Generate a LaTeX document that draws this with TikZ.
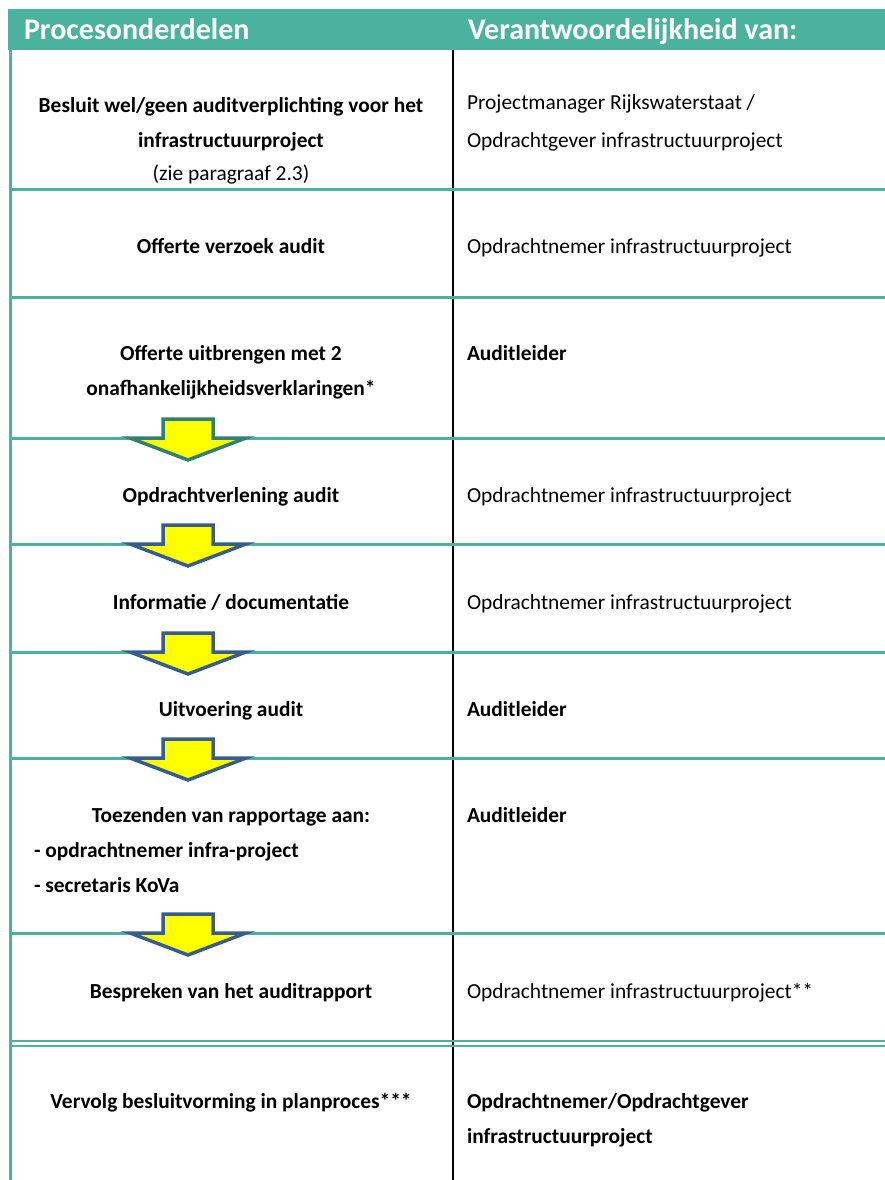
\documentclass[tikz,border=0pt]{standalone}
\usepackage{fontspec}
\setmainfont{Carlito}
\definecolor{kopgroen}{RGB}{75,179,157}
\definecolor{pijlblauw}{RGB}{56,93,138}
\definecolor{pijlgroen}{RGB}{52,128,112}
\definecolor{pijlgeel}{RGB}{255,255,0}

\begin{document}
\begin{tikzpicture}[
              x=1pt, y=-1pt,
              every node/.style={inner sep=0pt, outer sep=0pt,
                  font=\fontsize{21.4}{35}\selectfont},
              kop/.style={
                  anchor=base west,
                  text=white,
                  font=\fontsize{30}{30}\selectfont\bfseries,
                },
              proces/.style={
                  anchor=base,
                  align=center,
                  font=\fontsize{21.4}{35}\selectfont\bfseries,
                },
              wie/.style={
                  anchor=base west,
                  align=left,
                },
              rijlijn/.style={draw=kopgroen, line width=3pt},
              pijl/.style={fill=pijlgeel, line width=3.5pt, line join=miter}
            ]
            \useasboundingbox (0,0) rectangle (885,1180);
            % kop
            \fill[kopgroen] (8,9) rectangle (885,50);
            \node[kop] (hproces) at (24,40) {Procesonderdelen};
            \node[kop] (hwie) at (468,40) {Verantwoordelijkheid van:};
            % kolommen
            \draw[line width=1.5pt] (453,50) -- (453,1180);
            \draw[kopgroen, line width=3pt] (10,50) -- (10,1180);
            \foreach \Y in {189,297,438,544,652,758,933}
            \draw[rijlijn] (10,\Y) -- (885,\Y);
            \draw[kopgroen, line width=2pt] (10,1041) -- (885,1041);
            \draw[kopgroen, line width=2pt] (10,1045.5) -- (885,1045.5);
            % pijlen
            \foreach \Y/\Kleur in {438/pijlgroen,544/pijlblauw,652/pijlblauw,758/pijlblauw,933/pijlblauw}
            \draw[pijl, draw=\Kleur] (163,\Y-19) -- (213,\Y-19) -- (213,\Y) -- (246,\Y)
              -- (188,\Y+22) -- (130,\Y) -- (163,\Y) -- cycle;
            % procesonderdelen (base = laatste regel)
            \node[proces] (besluit) at (231,180) {Besluit wel/geen auditverplichting voor het\\infrastructuurproject\\[-2pt]\mdseries(zie paragraaf 2.3)};
            \node[proces] (verzoek) at (231,253) {Offerte verzoek audit};
            \node[proces] (offerte) at (231,395) {Offerte uitbrengen met 2\\onafhankelijkheidsverklaringen*};
            \node[proces] (opdracht) at (231,502) {Opdrachtverlening audit};
            \node[proces] (info) at (231,609) {Informatie / documentatie};
            \node[proces] (uitvoering) at (231,716) {Uitvoering audit};
            \node[proces] (toezenden) at (231,822) {Toezenden van rapportage aan:};
            \node[proces, anchor=base west, align=left] (ontvangers) at (34,892) {- opdrachtnemer infra-project\\- secretaris KoVa};
            \node[proces] (bespreken) at (231,998) {Bespreken van het auditrapport};
            \node[proces] (vervolg) at (231,1108) {Vervolg besluitvorming in planproces***};
            % verantwoordelijken
            \node[wie] (pm) at (467,147) {Projectmanager Rijkswaterstaat /\\[3pt]Opdrachtgever infrastructuurproject};
            \node[wie] (w2) at (467,253) {Opdrachtnemer infrastructuurproject};
            \node[wie, font=\fontsize{21.4}{35}\selectfont\bfseries] (w3) at (467,360) {Auditleider};
            \node[wie] (w4) at (467,502) {Opdrachtnemer infrastructuurproject};
            \node[wie] (w5) at (467,609) {Opdrachtnemer infrastructuurproject};
            \node[wie, font=\fontsize{21.4}{35}\selectfont\bfseries] (w6) at (467,716) {Auditleider};
            \node[wie, font=\fontsize{21.4}{35}\selectfont\bfseries] (w7) at (467,822) {Auditleider};
            \node[wie] (w8) at (467,998) {Opdrachtnemer infrastructuurproject**};
            \node[wie, font=\fontsize{21.4}{35}\selectfont\bfseries] (w9) at (467,1143) {Opdrachtnemer/Opdrachtgever\\infrastructuurproject};
          \end{tikzpicture}
\end{document}
